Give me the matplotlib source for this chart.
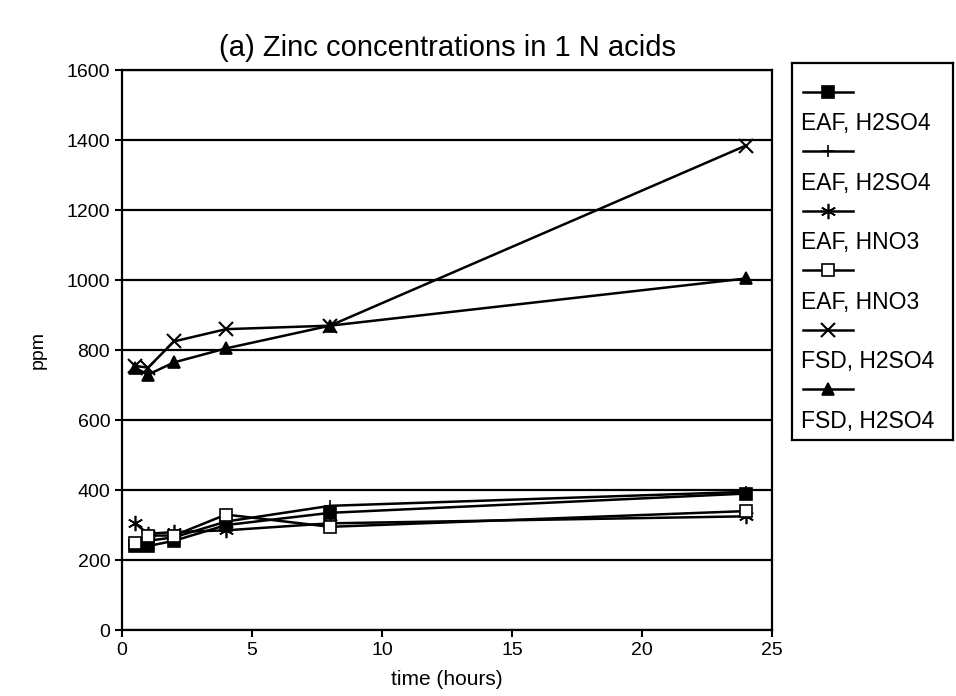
import matplotlib
matplotlib.use('Agg')
import matplotlib.pyplot as plt

plt.rcParams['font.family'] = ['Liberation Sans', 'DejaVu Sans']

# ---------------------- data ----------------------
hours = [0.5, 1, 2, 4, 8, 24]

eaf_h2so4_a = [240, 240, 255, 300, 335, 390]
eaf_h2so4_b = [245, 255, 265, 310, 355, 395]
eaf_hno3_a = [305, 275, 280, 285, 305, 325]
eaf_hno3_b = [250, 270, 270, 330, 295, 340]
fsd_h2so4_a = [755, 750, 825, 860, 870, 1385]
fsd_h2so4_b = [750, 730, 765, 805, 870, 1005]

labels = ['EAF, H2SO4', 'EAF, H2SO4', 'EAF, HNO3', 'EAF, HNO3',
          'FSD, H2SO4', 'FSD, H2SO4']
series = [eaf_h2so4_a, eaf_h2so4_b, eaf_hno3_a, eaf_hno3_b,
          fsd_h2so4_a, fsd_h2so4_b]

x_ticks = [0, 5, 10, 15, 20, 25]
y_ticks = [0, 200, 400, 600, 800, 1000, 1200, 1400, 1600]

# marker styles: (marker, size, facecolor, edgewidth)
styles = [
    ('s', 8, 'black', 1.2),
    ('+', 9, 'black', 1.2),
    ((6, 2, 0), 11, 'black', 1.2),
    ('s', 8, 'white', 1.2),
    ('x', 10, 'black', 1.5),
    ('^', 9, 'black', 1.2),
]

# ---------------------- plot ----------------------
fig = plt.figure(figsize=(9.56, 6.96), dpi=100)
ax = fig.add_axes([0.1276, 0.0948, 0.68, 0.8042])

for ys, (m, ms, fc, mew) in zip(series, styles):
    ax.plot(hours, ys, color='black', linewidth=1.8, marker=m, markersize=ms,
            markerfacecolor=fc, markeredgecolor='black', markeredgewidth=mew)

ax.set_xlim(0, 25)
ax.set_ylim(0, 1600)
ax.set_xticks(x_ticks)
ax.set_yticks(y_ticks)
ax.tick_params(direction='out', length=5, width=1.5, labelsize=14, colors='black')
ax.yaxis.grid(True, color='black', linewidth=1.6)
ax.set_axisbelow(True)
for s in ax.spines.values():
    s.set_linewidth(1.6)

ax.set_title('(a) Zinc concentrations in 1 N acids', fontsize=21, pad=10)
ax.set_xlabel('time (hours)', fontsize=15, labelpad=8)
ax.set_ylabel('ppm', fontsize=14, labelpad=14)

# legend: marker line above each label, in a separate boxed axes
lax = fig.add_axes([0.828, 0.368, 0.169, 0.541])
lax.set_xlim(0, 1)
lax.set_ylim(0, 1)
lax.set_xticks([])
lax.set_yticks([])
for s in lax.spines.values():
    s.set_linewidth(1.6)

for i, (lab, (m, ms, fc, mew)) in enumerate(zip(labels, styles)):
    y_line = 0.925 - i * 0.158
    lax.plot([0.07, 0.38], [y_line, y_line], color='black', linewidth=1.8)
    lax.plot([0.225], [y_line], color='black', marker=m, markersize=ms,
             markerfacecolor=fc, markeredgecolor='black', markeredgewidth=mew)
    lax.text(0.06, y_line - 0.085, lab, fontsize=16.5, va='center', ha='left')

fig.savefig('out.png', dpi=100)
